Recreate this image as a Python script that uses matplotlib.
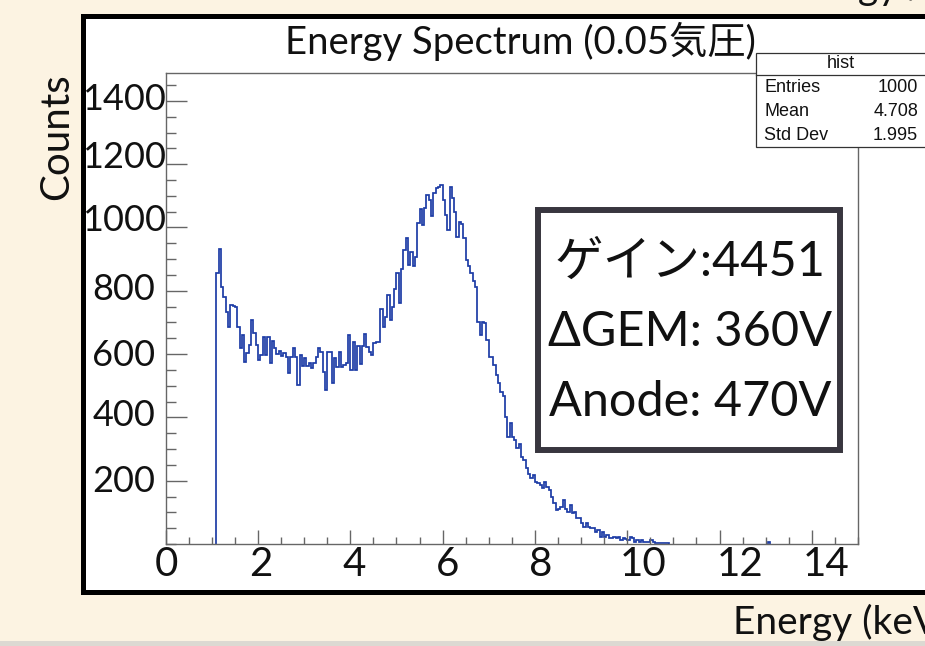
import matplotlib
matplotlib.use("Agg")
import matplotlib.pyplot as plt
from matplotlib.patches import Rectangle
from matplotlib.lines import Line2D
import numpy as np

# ---------------- data ----------------
bin_width = 0.05
first_edge = 1.10
counts = [
    855, 933, 813, 781, 734, 687, 755, 752, 748, 687,
    618, 660, 576, 603, 629, 708, 666, 629, 581, 597,
    655, 597, 655, 571, 642, 618, 600, 610, 595, 605,
    590, 539, 592, 618, 590, 502, 597, 561, 587, 561,
    571, 556, 571, 590, 618, 608, 544, 487, 608, 607,
    508, 587, 560, 607, 560, 565, 573, 660, 550, 639,
    550, 627, 569, 626, 663, 621, 607, 597, 634, 639,
    639, 743, 687, 718, 787, 708, 750, 805, 855, 761,
    868, 929, 966, 881, 924, 878, 906, 1013, 1057, 1008,
    1063, 1103, 1087, 1036, 1108, 1124, 1129, 1135, 1087, 1040,
    992, 1129, 1092, 1050, 971, 1018, 1010, 966, 897, 878,
    855, 830, 813, 702, 660, 702, 697, 645, 592, 592,
    565, 534, 508, 480, 469, 402, 339, 381, 339, 328,
    302, 315, 275, 265, 240, 222, 210, 218, 197, 192,
    186, 176, 197, 181, 170, 150, 129, 107, 112, 118,
    139, 110, 101, 123, 97, 101, 81, 81, 65, 55,
    65, 55, 52, 49, 39, 44, 23, 39, 23, 28,
    20, 18, 23, 18, 23, 12, 18, 15, 12, 23,
    18, 7, 12, 7, 12, 7, 7, 7, 12, 7,
    4, 4, 3, 4, 3, 3,
]
blip_edges = [13.05, 13.10]
blip_counts = [5]

x_ticks = [0, 2, 4, 6, 8, 10, 12, 14]
x_tick_labels = ["0", "2", "4", "6", "8", "10", "12", "14"]
y_ticks = [200, 400, 600, 800, 1000, 1200, 1400]
y_tick_labels = ["200", "400", "600", "800", "1000", "1200", "1400"]

title = "Energy Spectrum (0.05気圧)"
stats_name = "hist"
stats_rows = [("Entries", "1000"), ("Mean", "4.708"), ("Std Dev", "1.995")]
info_lines = ["ゲイン:4451", "ΔGEM: 360V", "Anode: 470V"]
x_title = "Energy (keV)"
y_title = "Counts"
top_fragment = "Energy /"

# ---------------- layout (pixels) ----------------
W, H = 925, 646
cream = "#fcf3e2"
hist_color = "#1d3ca6"
font_main = ["Lato", "Noto Sans CJK JP", "DejaVu Sans"]
font_root = ["Liberation Sans", "DejaVu Sans"]

def fx(px):
    return px / W

def fy(py):
    return 1 - py / H

fig = plt.figure(figsize=(W / 100, H / 100), dpi=100)
fig.patch.set_facecolor(cream)

# slide bottom strip
fig.add_artist(Rectangle((0, 0), 1, fy(641), transform=fig.transFigure,
                         facecolor="#dcd9d2", edgecolor="none", zorder=0))
# white canvas with thick black frame
fig.add_artist(Rectangle((fx(82.5), fy(591.5)), fx(960) - fx(82.5), fy(15.5) - fy(591.5),
                         transform=fig.transFigure, facecolor="white",
                         edgecolor="black", linewidth=3.6, zorder=1))

ax_l, ax_r, ax_t, ax_b = 165.7, 858, 72.7, 544
ax = fig.add_axes([fx(ax_l), fy(ax_b), fx(ax_r) - fx(ax_l), fy(ax_t) - fy(ax_b)], zorder=2)
ax.set_facecolor("white")

edges = first_edge + bin_width * np.arange(len(counts) + 1)
ax.stairs(counts, edges, baseline=0, color=hist_color, linewidth=1.25)
ax.stairs(blip_counts, blip_edges, baseline=0, color=hist_color, linewidth=1.25)

ax.set_xlim(0, 15)
ax.set_ylim(0, 1489)
ax.set_xticks(x_ticks)
ax.set_xticks(np.arange(0, 15.01, 0.5), minor=True)
ax.set_yticks(y_ticks)
ax.set_yticks(np.arange(0, 1489, 50), minor=True)
ax.tick_params(which="both", direction="in", colors="#666666", width=1.0,
               labelbottom=False, labelleft=False, top=False, right=False)
ax.tick_params(axis="x", which="major", length=10)
ax.tick_params(axis="x", which="minor", length=5)
ax.tick_params(axis="y", which="major", length=15)
ax.tick_params(axis="y", which="minor", length=7.5)
for s in ax.spines.values():
    s.set_color("#666666")
    s.set_linewidth(1.0)

# overlay tick labels (slide text, slightly offset from the ROOT ticks)
x_label_px = [166, 261, 354, 448, 541, 643, 740, 826]
for lab, px in zip(x_tick_labels, x_label_px):
    fig.text(fx(px), fy(565), lab, ha="center", va="center", fontsize=29,
             family=font_main, color="#111111", zorder=5)
y_label_py = [481, 416, 355, 289, 221, 158, 100]
for lab, py in zip(y_tick_labels, y_label_py):
    fig.text(fx(124), fy(py), lab, ha="center", va="center", fontsize=26,
             family=font_main, color="#111111", zorder=5)

# title
fig.text(fx(520), fy(41), title, ha="center", va="center", fontsize=27.5,
         family=font_main, color="#111111", zorder=5)

# stats box
sb_l, sb_r, sb_t, sb_b = 755.5, 927, 53, 147
fig.add_artist(Rectangle((fx(sb_l), fy(sb_b)), fx(sb_r) - fx(sb_l), fy(sb_t) - fy(sb_b),
                         transform=fig.transFigure, facecolor="white",
                         edgecolor="#333333", linewidth=0.9, zorder=4))
fig.add_artist(Line2D([fx(sb_l), fx(sb_r)], [fy(75), fy(75)], transform=fig.transFigure,
                      color="#333333", linewidth=0.9, zorder=4))
fig.text(fx(841), fy(64), stats_name, ha="center", va="center", fontsize=13,
         family=font_root, color="#111111", zorder=5)
for i, (k, v) in enumerate(stats_rows):
    yy = 88 + 24 * i
    fig.text(fx(764), fy(yy), k, ha="left", va="center", fontsize=13,
             family=font_root, color="#111111", zorder=5)
    fig.text(fx(918), fy(yy), v, ha="right", va="center", fontsize=13,
             family=font_root, color="#111111", zorder=5)

# info box
fig.add_artist(Rectangle((fx(538), fy(450)), fx(840) - fx(538), fy(210) - fy(450),
                         transform=fig.transFigure, facecolor="white",
                         edgecolor="#38363f", linewidth=4.3, zorder=4))
for line, py in zip(info_lines, [262, 332, 402]):
    fig.text(fx(690), fy(py), line, ha="center", va="center", fontsize=35,
             family=font_main, color="#111111", zorder=5)

# axis titles on the slide
fig.text(fx(57), fy(137), y_title, rotation=90, ha="center", va="center",
         fontsize=29, family=font_main, color="#111111", zorder=5)
fig.text(fx(733), fy(622), x_title, ha="left", va="center", fontsize=28,
         family=font_main, color="#111111", zorder=5)
fig.text(fx(926), fy(-1), top_fragment, ha="right", va="baseline", fontsize=28,
         family=font_main, color="#111111", zorder=5)

fig.savefig("out.png", dpi=100, facecolor=fig.get_facecolor())
